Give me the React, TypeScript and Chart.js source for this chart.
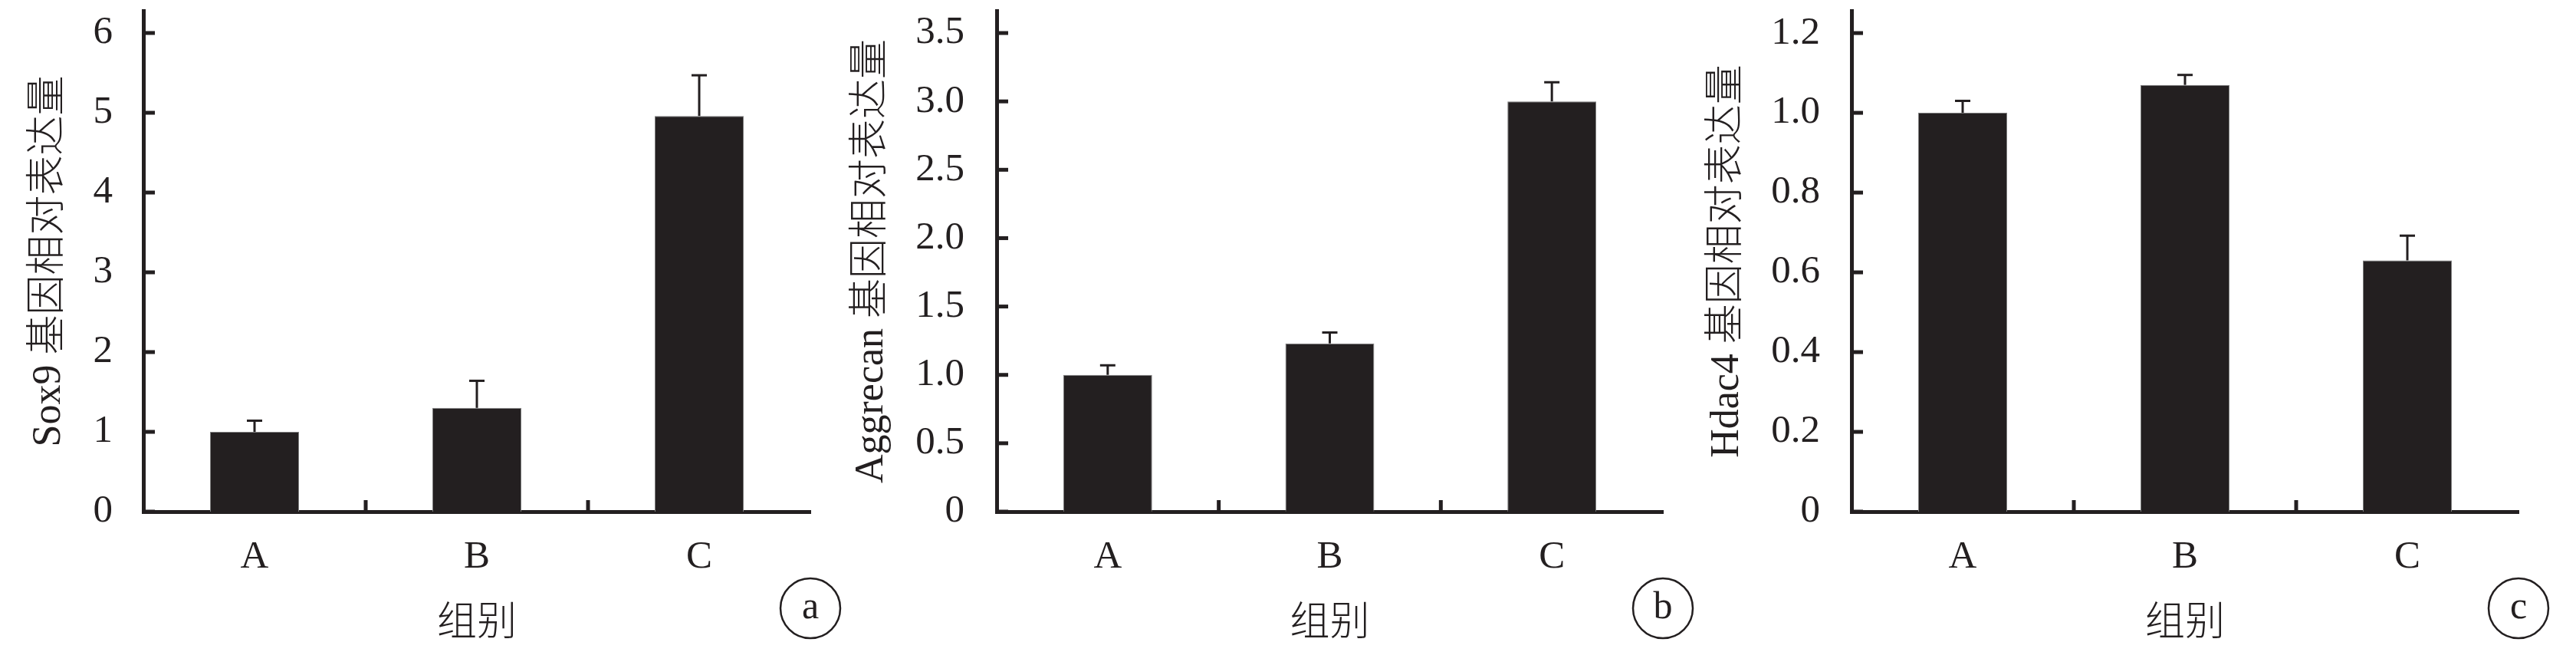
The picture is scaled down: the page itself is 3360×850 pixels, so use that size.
import React, { useEffect, useRef } from "react";
import { Chart, registerables } from "chart.js";

Chart.register(...registerables);

// ---------- data ----------
const categories = ["A", "B", "C"];

const sox9Values = [1.0, 1.3, 4.96];
const sox9Errors = [0.14, 0.34, 0.51];
const sox9Ticks = [0, 1, 2, 3, 4, 5, 6];
const sox9TickLabels = ["0", "1", "2", "3", "4", "5", "6"];

const aggrecanValues = [1.0, 1.23, 3.0];
const aggrecanErrors = [0.07, 0.08, 0.14];
const aggrecanTicks = [0, 0.5, 1, 1.5, 2, 2.5, 3, 3.5];
const aggrecanTickLabels = ["0", "0.5", "1.0", "1.5", "2.0", "2.5", "3.0", "3.5"];

const hdac4Values = [1.0, 1.07, 0.63];
const hdac4Errors = [0.03, 0.025, 0.062];
const hdac4Ticks = [0, 0.2, 0.4, 0.6, 0.8, 1.0, 1.2];
const hdac4TickLabels = ["0", "0.2", "0.4", "0.6", "0.8", "1.0", "1.2"];

const yTitles = ["Sox9 基因相对表达量", "Aggrecan 基因相对表达量", "Hdac4 基因相对表达量"];
const xTitle = "组别";
const panelTags = ["a", "b", "c"];

// ---------- style ----------
const INK = "#231f20";
const SERIF = '"Liberation Serif", "Times New Roman", serif';
const MIXED = '"Liberation Serif", "Noto Sans CJK SC", serif';

type PanelSpec = {
  values: number[];
  errors: number[];
  ticks: number[];
  tickLabels: string[];
  yTitle: string;
  tag: string;
  left: number;
  width: number;
  yAxisWidth: number;
  padRight: number;
  yMax: number;
  labelPad: number;
};

const panels: PanelSpec[] = [
  {
    values: sox9Values, errors: sox9Errors, ticks: sox9Ticks, tickLabels: sox9TickLabels,
    yTitle: yTitles[0], tag: panelTags[0],
    left: 33, width: 1077, yAxisWidth: 154, padRight: 53, yMax: 6.279, labelPad: 40,
  },
  {
    values: aggrecanValues, errors: aggrecanErrors, ticks: aggrecanTicks, tickLabels: aggrecanTickLabels,
    yTitle: yTitles[1], tag: panelTags[1],
    left: 1106, width: 1116, yAxisWidth: 194, padRight: 53, yMax: 3.663, labelPad: 42,
  },
  {
    values: hdac4Values, errors: hdac4Errors, ticks: hdac4Ticks, tickLabels: hdac4TickLabels,
    yTitle: yTitles[2], tag: panelTags[2],
    left: 2222, width: 1138, yAxisWidth: 193, padRight: 75, yMax: 1.256, labelPad: 41,
  },
];

const decorPlugin = {
  id: "decor",
  afterDatasetsDraw(chart: any, _args: any, opts: any) {
    const { ctx, chartArea, scales } = chart;
    const xs = scales.x;
    const ys = scales.y;
    const data: number[] = chart.data.datasets[0].data;
    const errs: number[] = opts.errors;
    ctx.save();
    ctx.strokeStyle = INK;
    ctx.lineCap = "butt";

    // error bars (upper only)
    ctx.lineWidth = 3;
    data.forEach((v, i) => {
      const px = xs.getPixelForValue(i);
      const p0 = ys.getPixelForValue(v);
      const p1 = ys.getPixelForValue(v + errs[i]);
      ctx.beginPath();
      ctx.moveTo(px, p0);
      ctx.lineTo(px, p1);
      ctx.stroke();
      ctx.beginPath();
      ctx.moveTo(px - 10, p1);
      ctx.lineTo(px + 10, p1);
      ctx.stroke();
    });

    // inward y tick marks
    ctx.lineWidth = 5;
    (opts.ticks as number[]).forEach((t) => {
      const py = ys.getPixelForValue(t);
      ctx.beginPath();
      ctx.moveTo(chartArea.left, py);
      ctx.lineTo(chartArea.left + 15, py);
      ctx.stroke();
    });

    // category separators on the x axis
    for (let i = 0; i < data.length - 1; i++) {
      const px = (xs.getPixelForValue(i) + xs.getPixelForValue(i + 1)) / 2;
      ctx.beginPath();
      ctx.moveTo(px, chartArea.bottom);
      ctx.lineTo(px, chartArea.bottom - 15);
      ctx.stroke();
    }

    // circled panel tag
    const cx = chartArea.right;
    const cy = chartArea.bottom + 126;
    ctx.lineWidth = 2.5;
    ctx.beginPath();
    ctx.arc(cx, cy, 39, 0, Math.PI * 2);
    ctx.stroke();
    ctx.fillStyle = INK;
    ctx.font = `50px ${SERIF}`;
    ctx.textAlign = "center";
    ctx.textBaseline = "middle";
    ctx.fillText(opts.tag, cx, cy);
    ctx.restore();
  },
};

function Panel({ spec }: { spec: PanelSpec }) {
  const ref = useRef<HTMLCanvasElement | null>(null);

  useEffect(() => {
    if (!ref.current) return;
    const chart = new Chart(ref.current, {
      type: "bar",
      data: {
        labels: categories,
        datasets: [
          {
            data: spec.values,
            backgroundColor: INK,
            borderColor: "#7d7d7d",
            borderWidth: 1,
            barPercentage: 0.4,
            categoryPercentage: 1.0,
          },
        ],
      },
      options: {
        responsive: false,
        maintainAspectRatio: false,
        devicePixelRatio: 1,
        animation: false,
        layout: { padding: { top: 14, right: spec.padRight, left: 0, bottom: 0 } },
        plugins: {
          legend: { display: false },
          tooltip: { enabled: false },
          decor: { errors: spec.errors, ticks: spec.ticks, tag: spec.tag },
        } as any,
        scales: {
          x: {
            type: "category",
            offset: true,
            grid: { display: false, drawTicks: false },
            border: { display: true, width: 5, color: INK },
            ticks: {
              color: INK,
              padding: 29,
              font: { family: SERIF, size: 51 },
              maxRotation: 0,
            },
            title: {
              display: true,
              text: xTitle,
              color: INK,
              font: { family: MIXED, size: 52, weight: "300" as any },
              padding: { top: 0, bottom: 4 },
            },
            afterFit: (s: any) => {
              s.height = 183;
              s.paddingLeft = 0;
              s.paddingRight = 0;
            },
          },
          y: {
            type: "linear",
            min: 0,
            max: spec.yMax,
            grid: { display: false, drawTicks: false },
            border: { display: true, width: 5, color: INK },
            afterBuildTicks: (s: any) => {
              s.ticks = spec.ticks.map((v) => ({ value: v }));
            },
            ticks: {
              color: INK,
              padding: spec.labelPad,
              autoSkip: false,
              font: { family: SERIF, size: 51 },
              callback: (_v: any, i: number) => spec.tickLabels[i],
            },
            title: {
              display: true,
              text: spec.yTitle,
              color: INK,
              font: { family: MIXED, size: 52, weight: "300" as any },
              padding: { top: 0, bottom: 0 },
            },
            afterFit: (s: any) => {
              s.width = spec.yAxisWidth;
              s.paddingTop = 0;
              s.paddingBottom = 0;
            },
          },
        },
      } as any,
      plugins: [decorPlugin],
    });
    return () => chart.destroy();
  }, [spec]);

  return (
    <canvas
      ref={ref}
      width={spec.width}
      height={850}
      style={{ position: "absolute", left: spec.left, top: 0, width: spec.width, height: 850 }}
    />
  );
}

export default function App() {
  return (
    <div
      style={{
        position: "absolute",
        left: 0,
        top: 0,
        width: 3360,
        height: 850,
        background: "#ffffff",
        overflow: "hidden",
      }}
    >
      {panels.map((p) => (
        <Panel key={p.tag} spec={p} />
      ))}
    </div>
  );
}
